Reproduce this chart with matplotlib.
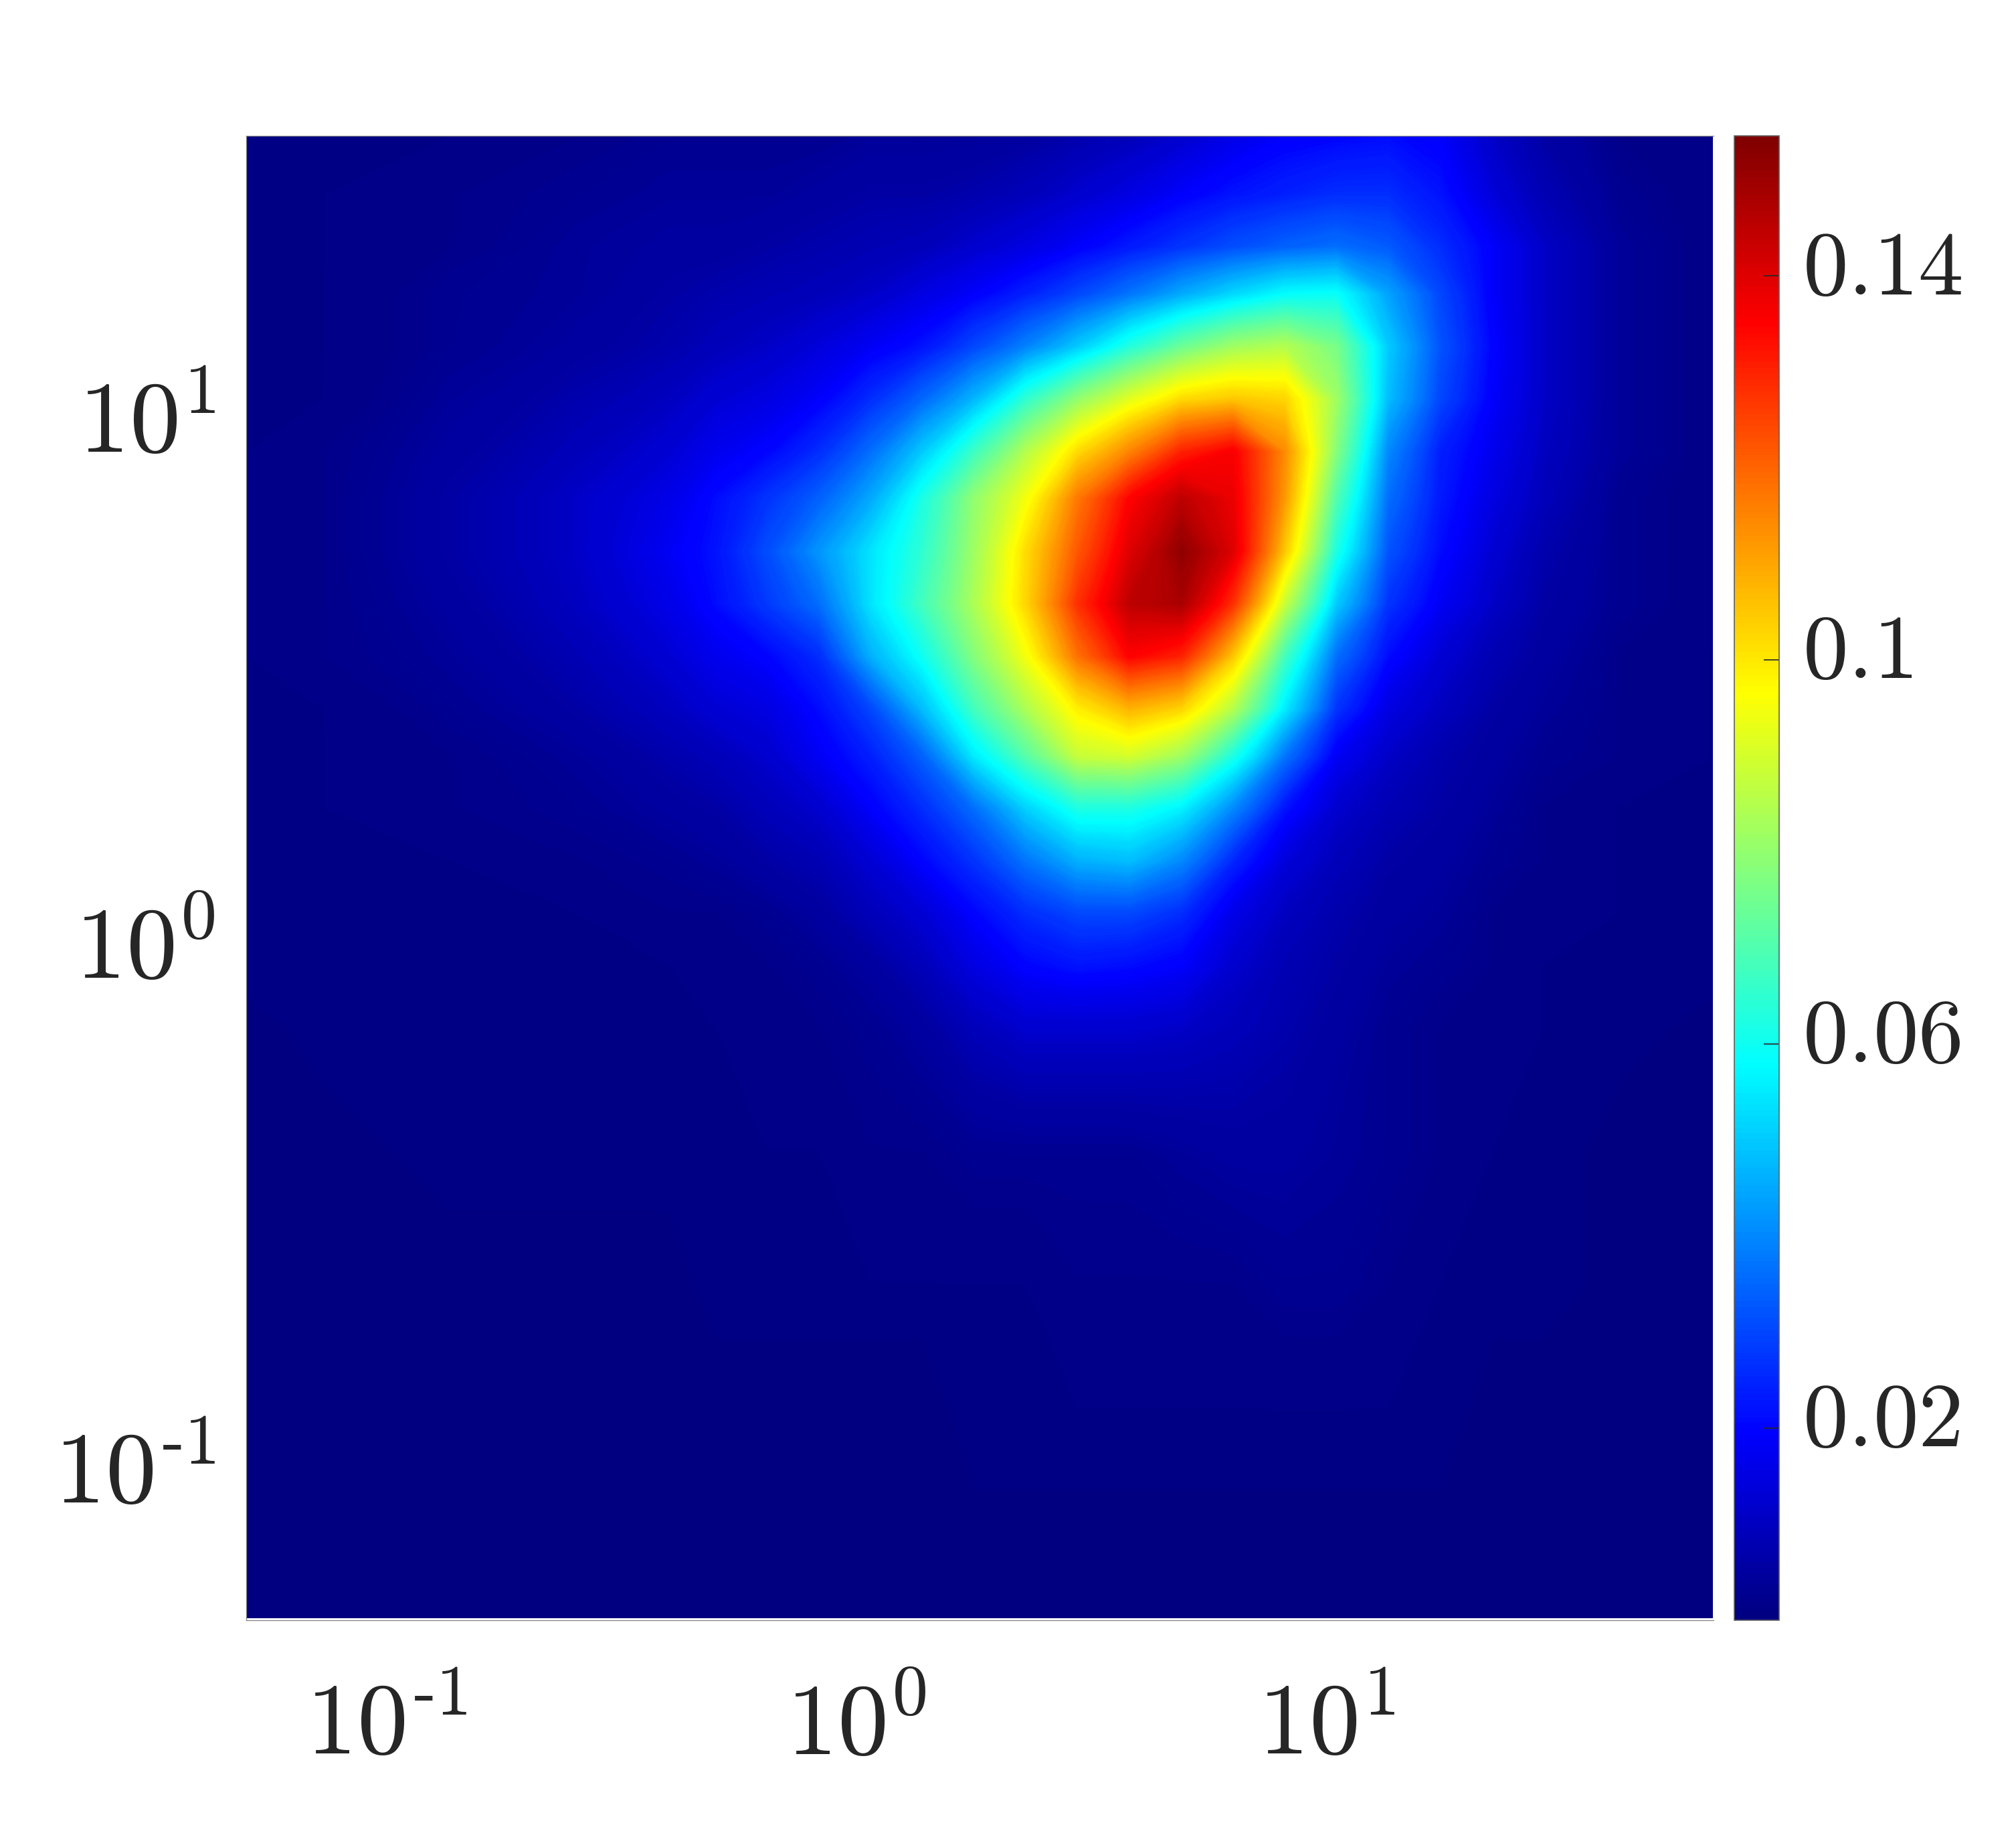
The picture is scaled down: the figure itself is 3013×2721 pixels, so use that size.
import numpy as np
import matplotlib
matplotlib.use("Agg")
import matplotlib.pyplot as plt
from matplotlib.colors import LinearSegmentedColormap, Normalize
from matplotlib.cm import ScalarMappable
from matplotlib.transforms import ScaledTranslation

plt.rcParams["mathtext.fontset"] = "cm"
plt.rcParams["font.family"] = "serif"
plt.rcParams["font.serif"] = ["DejaVu Serif"]

# log10 of the grid positions
x_log = [-1.30, -1.14, -0.87, -0.60, -0.40, -0.30, -0.19, -0.08, 0.03, 0.14, 0.25, 0.36,
         0.47, 0.58, 0.69, 0.80, 0.91, 1.02, 1.13, 1.24, 1.35, 1.46, 1.62, 1.82]
y_log = [1.51, 1.40, 1.30, 1.21, 1.11, 1.01, 0.91, 0.82, 0.72, 0.62, 0.52, 0.42,
         0.33, 0.23, 0.13, 0.03, -0.07, -0.19, -0.43, -0.68, -0.92, -1.31]

# estimated values, one row per y_log entry (top of the plot first)
density = [
  [.001,.001,.001,.002,.003,.003,.003,.003,.004,.004,.004,.005,.007,.009,.012,.016,.019,.020,.021,.019,.011,.006,.002,.001],
  [.001,.001,.002,.003,.004,.004,.004,.005,.006,.006,.007,.009,.012,.015,.019,.022,.024,.026,.026,.022,.014,.008,.003,.001],
  [.001,.001,.002,.004,.005,.005,.006,.007,.008,.009,.012,.015,.019,.023,.027,.031,.034,.036,.033,.026,.019,.011,.004,.001],
  [.001,.001,.003,.004,.006,.007,.008,.009,.011,.015,.019,.024,.030,.037,.045,.052,.058,.059,.044,.030,.019,.011,.004,.001],
  [.001,.001,.003,.005,.007,.009,.011,.014,.018,.022,.030,.039,.050,.063,.074,.082,.085,.076,.050,.032,.020,.011,.004,.001],
  [.001,.001,.004,.007,.010,.013,.015,.019,.026,.035,.047,.065,.080,.092,.102,.105,.103,.082,.048,.030,.019,.011,.004,.001],
  [.001,.002,.005,.009,.013,.017,.020,.026,.036,.050,.067,.085,.102,.115,.130,.136,.114,.078,.040,.024,.017,.010,.004,.001],
  [.001,.002,.006,.011,.016,.021,.027,.034,.045,.062,.080,.095,.117,.135,.145,.138,.112,.070,.036,.023,.015,.009,.003,.001],
  [.001,.002,.006,.011,.018,.022,.031,.042,.054,.065,.082,.102,.122,.140,.152,.140,.105,.062,.032,.021,.013,.007,.003,.001],
  [.001,.002,.005,.010,.016,.021,.028,.036,.054,.068,.084,.103,.128,.145,.148,.128,.088,.050,.027,.018,.011,.006,.003,.001],
  [.001,.002,.004,.008,.013,.017,.020,.026,.046,.060,.078,.095,.118,.135,.130,.105,.068,.036,.021,.013,.008,.005,.002,.001],
  [.001,.001,.003,.006,.010,.013,.015,.021,.030,.048,.068,.084,.099,.108,.103,.085,.055,.027,.015,.010,.006,.004,.002,.001],
  [.001,.001,.002,.004,.007,.009,.012,.018,.024,.034,.055,.071,.088,.090,.082,.062,.037,.018,.011,.007,.005,.003,.002,.001],
  [.001,.001,.002,.003,.005,.006,.009,.012,.019,.026,.036,.051,.062,.062,.056,.040,.022,.012,.008,.006,.004,.002,.001,.001],
  [.001,.001,.001,.002,.003,.004,.006,.008,.013,.020,.027,.037,.046,.048,.040,.025,.014,.009,.006,.005,.003,.002,.001,.001],
  [.001,.001,.001,.001,.002,.002,.003,.005,.009,.013,.020,.026,.030,.030,.026,.016,.010,.007,.005,.004,.002,.002,.001,.001],
  [.001,.001,.001,.001,.001,.002,.002,.003,.005,.009,.015,.020,.022,.021,.019,.012,.008,.006,.004,.003,.002,.001,.001,.001],
  [.000,.001,.001,.001,.001,.001,.002,.002,.003,.005,.009,.012,.012,.012,.011,.009,.007,.005,.003,.002,.002,.001,.001,.000],
  [.000,.000,.001,.001,.001,.001,.001,.001,.002,.002,.003,.003,.003,.003,.004,.005,.005,.004,.003,.002,.001,.001,.000,.000],
  [.000,.000,.000,.000,.000,.001,.001,.001,.001,.001,.001,.001,.002,.002,.002,.002,.003,.003,.002,.001,.001,.001,.000,.000],
  [.000,.000,.000,.000,.000,.000,.000,.000,.000,.000,.001,.001,.001,.001,.001,.001,.001,.001,.001,.001,.000,.000,.000,.000],
  [.000,.000,.000,.000,.000,.000,.000,.000,.000,.000,.000,.000,.000,.000,.000,.000,.000,.000,.000,.000,.000,.000,.000,.000],
]

x_ticks = [0.1, 1, 10]
x_labels = ["$10^{\u20101}$", "$10^{0}$", "$10^{1}$"]
y_ticks = [0.1, 1, 10]
y_labels = ["$10^{\u20101}$", "$10^{0}$", "$10^{1}$"]
cbar_ticks = [0.02, 0.06, 0.1, 0.14]
cbar_labels = ["$0.02$", "$0.06$", "$0.1$", "$0.14$"]
v_max = 0.1546

W, H = 3013, 2721
TEXT = "#262626"

# matlab style jet, the stops differ a little from matplotlib's
jet = LinearSegmentedColormap.from_list("matlab_jet", [
  (0, (0, 0, 0.5)), (0.125, (0, 0, 1)), (0.375, (0, 1, 1)),
  (0.625, (1, 1, 0)), (0.875, (1, 0, 0)), (1, (0.5, 0, 0))], N=256)
norm = Normalize(0, v_max)

fig = plt.figure(figsize=(W / 300, H / 300), dpi=300)
ax = fig.add_axes([368 / W, 1 - 2421 / H, (2561 - 368) / W, (2421 - 203) / H])

x = np.power(10.0, x_log)
y = np.power(10.0, y_log)
ax.set_xscale("log")
ax.set_yscale("log")
ax.contourf(x, y, np.array(density), levels=np.linspace(0, v_max, 300), cmap=jet, norm=norm,
            extend="both", antialiased=False)
ax.set_xlim(10 ** -1.2975, 10 ** 1.822)
ax.set_ylim(10 ** -1.315, 10 ** 1.511)

ax.set_xticks(x_ticks)
ax.set_xticklabels(x_labels, fontsize=36.5, color=TEXT)
ax.set_yticks(y_ticks)
ax.set_yticklabels(y_labels, fontsize=36.5, color=TEXT)
ax.minorticks_off()
ax.tick_params(length=0)
ax.tick_params(axis="x", pad=20.5)
ax.tick_params(axis="y", pad=11)
for label in ax.get_yticklabels():
  label.set_transform(label.get_transform() + ScaledTranslation(0, -3.6 / 72, fig.dpi_scale_trans))
for name, s in ax.spines.items():
  s.set_linewidth(0.3)
  s.set_color("#808080")
ax.spines["right"].set_visible(False)

cax = fig.add_axes([2592 / W, 1 - 2421 / H, (2659 - 2592) / W, (2421 - 203) / H])
cb = fig.colorbar(ScalarMappable(norm=norm, cmap=jet), cax=cax)
cb.set_ticks(cbar_ticks)
cb.set_ticklabels(cbar_labels)
cb.ax.tick_params(direction="in", length=5.5, width=0.4, color=TEXT, pad=8.5,
                  labelsize=32.5, labelcolor=TEXT)
for label in cb.ax.get_yticklabels():
  label.set_transform(label.get_transform() + ScaledTranslation(0, 5.8 / 72, fig.dpi_scale_trans))
cb.outline.set_linewidth(0.4)
cb.outline.set_edgecolor("#606060")

fig.savefig("out.png", dpi=300, facecolor="white")
